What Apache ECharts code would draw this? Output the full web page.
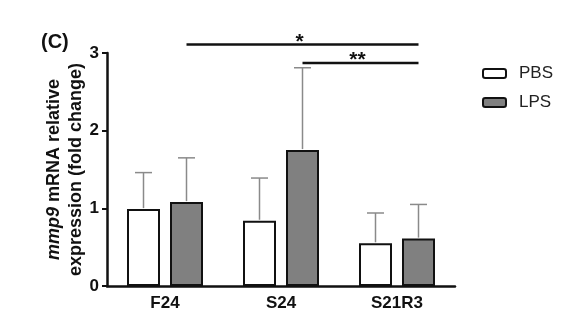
<!DOCTYPE html>
<html><head><meta charset="utf-8">
<script src="https://cdn.jsdelivr.net/npm/echarts@6/dist/echarts.min.js"></script>
<style>html,body{margin:0;padding:0;background:#fff}#c{width:588px;height:316px}</style>
</head><body><div id="c"></div>
<script>
var categories = ['F24', 'S24', 'S21R3'];
var pbsMean = [0.99, 0.84, 0.55];
var pbsErr = [0.47, 0.55, 0.39];
var lpsMean = [1.08, 1.75, 0.61];
var lpsErr = [0.57, 1.06, 0.44];
var yTicks = [0, 1, 2, 3];
// significance brackets: [fromCategory, toCategory, yValue, label]
var sigFrom = [0, 1];
var sigTo = [2, 2];
var sigY = [3.11, 2.87];
var sigLabel = ['*', '**'];

var FONT = 'Liberation Sans, Arial, sans-serif';
var chart = echarts.init(document.getElementById('c'));

var BAR_W = 33, GAP_PX = 10;

function errData(mean, err) {
  return mean.map(function (m, i) { return [i, m, m + err[i]]; });
}
function errRender(side) {
  return function (params, api) {
    var i = api.value(0);
    var base = api.coord([i, api.value(1)]);
    var top = api.coord([i, api.value(2)]);
    var off = side * (BAR_W + GAP_PX) / 2;
    var x = base[0] + off;
    var cap = 8.5;
    var st = { stroke: '#8a8a8a', lineWidth: 1.5 };
    return { type: 'group', children: [
      { type: 'line', shape: { x1: x, y1: base[1] - 1, x2: x, y2: top[1] }, style: st },
      { type: 'line', shape: { x1: x - cap, y1: top[1], x2: x + cap, y2: top[1] }, style: st }
    ]};
  };
}

var sigData = sigFrom.map(function (f, i) { return [f, sigTo[i], sigY[i], sigLabel[i]]; });

var option = {
  animation: false,
  textStyle: { fontFamily: FONT },
  title: {
    text: '{p|(}{c|C}{p|)}', left: 36, top: 27,
    textStyle: { rich: {
      p: { fontSize: 20, fontWeight: 'bold', color: '#111', fontFamily: FONT },
      c: { fontSize: 20, fontWeight: 'bold', color: '#111', fontFamily: FONT }
    } }
  },
  legend: {
    orient: 'vertical', left: 477, top: 60, itemWidth: 23, itemHeight: 9, itemGap: 12,
    textStyle: { fontSize: 17, color: '#222', fontFamily: FONT, padding: [0, 0, 0, 8] },
    data: ['PBS', 'LPS']
  },
  grid: { left: 107, right: 133, top: 53, bottom: 30 },
  xAxis: {
    type: 'category', data: categories,
    axisLine: { lineStyle: { color: '#111', width: 2.5 } },
    axisTick: { alignWithLabel: true, length: 5, lineStyle: { color: '#111', width: 2 } },
    axisLabel: { fontSize: 17, fontWeight: 'bold', color: '#111', margin: 9, fontFamily: FONT }
  },
  yAxis: {
    type: 'value', min: 0, max: 3, interval: 1,
    name: '{i|mmp9} mRNA relative\nexpression (fold change)',
    nameLocation: 'middle', nameRotate: 90, nameGap: 20, nameMoveOverlap: false,
    nameTextStyle: { fontSize: 18, fontWeight: 'bold', color: '#111', lineHeight: 22, fontFamily: FONT,
      rich: { i: { fontStyle: 'italic', fontWeight: 'bold', fontSize: 18, color: '#111', lineHeight: 22, fontFamily: FONT } } },
    axisLine: { show: true, lineStyle: { color: '#111', width: 2.5 } },
    axisTick: { show: true, length: 5, lineStyle: { color: '#111', width: 2 } },
    axisLabel: { fontSize: 17, fontWeight: 'bold', color: '#111', margin: 8, fontFamily: FONT },
    splitLine: { show: false }
  },
  series: [
    { name: 'PBS', type: 'bar', data: pbsMean, barWidth: BAR_W, barGap: (GAP_PX / BAR_W * 100) + '%',
      itemStyle: { color: '#ffffff', borderColor: '#111', borderWidth: 2 }, z: 3 },
    { name: 'LPS', type: 'bar', data: lpsMean, barWidth: BAR_W,
      itemStyle: { color: '#808080', borderColor: '#111', borderWidth: 2 }, z: 3 },
    { type: 'custom', data: errData(pbsMean, pbsErr), renderItem: errRender(-1), z: 2, silent: true },
    { type: 'custom', data: errData(lpsMean, lpsErr), renderItem: errRender(1), z: 2, silent: true },
    { type: 'custom', data: sigData, clip: false, silent: true, z: 5,
      renderItem: function (params, api) {
        var off = (BAR_W + GAP_PX) / 2;
        var a = api.coord([api.value(0), api.value(2)]);
        var b = api.coord([api.value(1), api.value(2)]);
        var x1 = a[0] + off, x2 = b[0] + off, y = a[1];
        return { type: 'group', children: [
          { type: 'line', shape: { x1: x1, y1: y, x2: x2, y2: y }, style: { stroke: '#111', lineWidth: 2.5 } },
          { type: 'text', style: { text: sigLabel[params.dataIndex], x: (x1 + x2) / 2 - 3, y: y + 8,
              align: 'center', verticalAlign: 'bottom', fontSize: 21, fontWeight: 'bold', fill: '#111', fontFamily: FONT } }
        ]};
      } }
  ]
};
chart.setOption(option);
</script></body></html>
